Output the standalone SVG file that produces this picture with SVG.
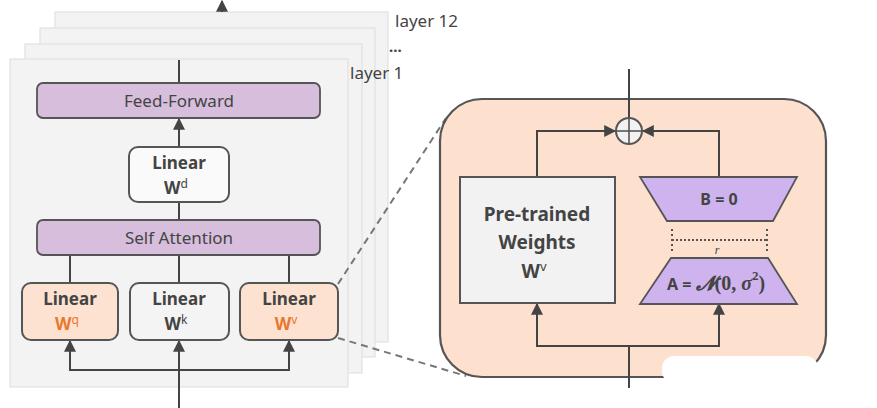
<svg xmlns="http://www.w3.org/2000/svg" width="877" height="408" viewBox="0 0 877 408">
<style>
.card{fill:#f3f3f3;stroke:#e2e2e2;stroke-width:1.2}
.bar{fill:#d6bedc;stroke:#555;stroke-width:1.8}
.lin{stroke:#444;stroke-width:2;fill:none}
.t{font-family:"Noto Sans","Open Sans",sans-serif;fill:#444}
.b{font-weight:700}
.or{fill:#e9782f}
.m{font-family:"Liberation Serif",serif;font-weight:700}
.dash{stroke:#777;stroke-width:2;stroke-dasharray:7 5;fill:none}
</style>
<defs>
<marker id="ah" viewBox="0 0 10 10" refX="9" refY="5" markerWidth="6" markerHeight="6" orient="auto-start-reverse" markerUnits="strokeWidth">
<path d="M0,0 L10,5 L0,10 z" fill="#444"/>
</marker>
</defs>
<rect width="877" height="408" fill="#fff"/>
<g id="layers">
<rect class="card" x="55" y="12" width="333" height="330"/>
<rect class="card" x="40" y="28" width="335" height="329"/>
<rect class="card" x="25" y="44" width="337" height="329"/>
<rect class="card" x="10" y="59" width="338" height="328"/>
<text class="t" x="395" y="27" font-size="17">layer 12</text>
<text class="t" x="389" y="52" font-size="15" font-weight="700">...</text>
<text class="t" x="350" y="79" font-size="17">layer 1</text>
</g>
<g id="connectors">
<line class="lin" x1="222" y1="12" x2="222" y2="1" marker-end="url(#ah)"/>
<line class="lin" x1="179" y1="60" x2="179" y2="83"/>
<line class="lin" x1="179" y1="147" x2="179" y2="119" marker-end="url(#ah)"/>
<line class="lin" x1="179" y1="202" x2="179" y2="220"/>
<line class="lin" x1="70" y1="255" x2="70" y2="283"/>
<line class="lin" x1="179" y1="255" x2="179" y2="283"/>
<line class="lin" x1="289" y1="255" x2="289" y2="283"/>
<path class="lin" d="M70,341 V370 H289 V341" marker-start="url(#ah)" marker-end="url(#ah)"/>
<line class="lin" x1="179" y1="408" x2="179" y2="341" marker-end="url(#ah)"/>
<line class="dash" x1="338" y1="284" x2="446" y2="118"/>
<line class="dash" x1="338" y1="338" x2="466" y2="376"/>
</g>
<g id="feedforward">
<rect class="bar" x="37" y="83" width="283" height="35" rx="6"/>
<text class="t" x="179" y="107" font-size="17" text-anchor="middle">Feed-Forward</text>
</g>
<g id="linear-wd">
<rect x="129" y="147" width="100" height="55" rx="9" fill="#fafafa" stroke="#555" stroke-width="2"/>
<text class="t b" x="179" y="169" font-size="17" text-anchor="middle">Linear</text>
<text class="t b" x="176" y="194" font-size="17" text-anchor="middle">W<tspan font-size="12" dy="-6" font-weight="400">d</tspan></text>
</g>
<g id="self-attention">
<rect class="bar" x="37" y="220" width="283" height="35" rx="6"/>
<text class="t" x="179" y="244" font-size="17" text-anchor="middle">Self Attention</text>
</g>
<g id="linear-wq">
<rect x="22" y="283" width="96" height="57" rx="9" fill="#fde2d1" stroke="#555" stroke-width="2"/>
<text class="t b" x="70" y="305" font-size="17" text-anchor="middle">Linear</text>
<text class="t b or" x="67" y="330" font-size="17" text-anchor="middle">W<tspan font-size="12" dy="-6" font-weight="400" class="or">q</tspan></text>
</g>
<g id="linear-wk">
<rect x="130" y="283" width="99" height="57" rx="9" fill="#f4f4f4" stroke="#555" stroke-width="2"/>
<text class="t b" x="179" y="305" font-size="17" text-anchor="middle">Linear</text>
<text class="t b" x="176" y="330" font-size="17" text-anchor="middle">W<tspan font-size="12" dy="-6" font-weight="400">k</tspan></text>
</g>
<g id="linear-wv">
<rect x="240" y="283" width="98" height="57" rx="9" fill="#fde2d1" stroke="#555" stroke-width="2"/>
<text class="t b" x="289" y="305" font-size="17" text-anchor="middle">Linear</text>
<text class="t b or" x="286" y="330" font-size="17" text-anchor="middle">W<tspan font-size="12" dy="-6" font-weight="400" class="or">v</tspan></text>
</g>
<g id="lora-box">
<rect x="440" y="99" width="386" height="278" rx="42" fill="#fde0cd" stroke="#555" stroke-width="2.2"/>
</g>
<g id="lora-connectors">
<line class="lin" x1="629" y1="69" x2="629" y2="118"/>
<path class="lin" d="M537,177 V131 H615" marker-end="url(#ah)"/>
<path class="lin" d="M719,177 V131 H643" marker-end="url(#ah)"/>
<path class="lin" d="M537,304 V346 H719 V304" marker-start="url(#ah)" marker-end="url(#ah)"/>
<line class="lin" x1="629" y1="388" x2="629" y2="346"/>
</g>
<g id="sum">
<circle cx="629" cy="131" r="13" fill="#f2f2f2" stroke="#555" stroke-width="2"/>
<line x1="616" y1="131" x2="642" y2="131" stroke="#555" stroke-width="1.6"/>
<line x1="629" y1="118" x2="629" y2="144" stroke="#555" stroke-width="1.6"/>
</g>
<g id="pretrained">
<rect x="460" y="177" width="155" height="126" fill="#f2f2f2" stroke="#555" stroke-width="2"/>
<text class="t b" x="537" y="221" font-size="19" text-anchor="middle">Pre-trained</text>
<text class="t b" x="537" y="249" font-size="19" text-anchor="middle">Weights</text>
<text class="t b" x="534" y="278" font-size="19" text-anchor="middle">W<tspan font-size="13" dy="-7" font-weight="400">v</tspan></text>
</g>
<g id="matrix-b">
<polygon points="640,177 797,177 773,221 667,221" fill="#cfb3ee" stroke="#555" stroke-width="1.8"/>
<text class="t b" x="719" y="205" font-size="16" text-anchor="middle">B = 0</text>
</g>
<g id="rank">
<line x1="672" y1="240" x2="767" y2="240" stroke="#555" stroke-width="2" stroke-dasharray="2 2"/>
<line x1="672" y1="229" x2="672" y2="251" stroke="#555" stroke-width="2" stroke-dasharray="2 3"/>
<line x1="767" y1="229" x2="767" y2="251" stroke="#555" stroke-width="2" stroke-dasharray="2 3"/>
<text x="717" y="254" font-size="12" font-style="italic" font-family="'Liberation Serif',serif" fill="#444" text-anchor="middle">r</text>
</g>
<g id="matrix-a">
<polygon points="671,258 768,258 797,304 640,304" fill="#cfb3ee" stroke="#555" stroke-width="1.8"/>
<text x="667" y="290" font-size="16" fill="#444"><tspan class="t b">A = </tspan><tspan class="m" font-style="italic" font-size="20">𝓝</tspan><tspan class="m" font-size="20">(0, </tspan><tspan class="m" font-style="italic" font-size="20">σ</tspan><tspan class="m" font-size="13" dy="-10">2</tspan><tspan class="m" font-size="20" dy="10">)</tspan></text>
</g>
<g id="blot">
<rect x="662" y="356" width="156" height="27" rx="12" fill="#fff"/>
</g>
</svg>
